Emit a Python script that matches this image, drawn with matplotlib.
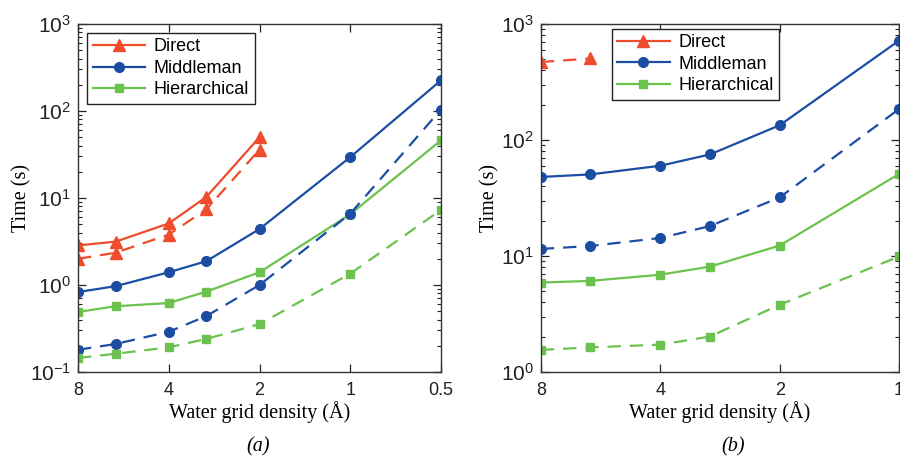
import matplotlib
matplotlib.use('Agg')
import matplotlib.pyplot as plt
from matplotlib.ticker import LogLocator, FixedLocator, NullLocator, NullFormatter

plt.rcParams['font.family'] = ['Liberation Sans', 'DejaVu Sans']
plt.rcParams['mathtext.fontset'] = 'custom'
plt.rcParams['mathtext.rm'] = 'Liberation Sans'
plt.rcParams['mathtext.it'] = 'Liberation Sans:italic'

# panel (a)
x_a = [8, 6, 4, 3, 2, 1, 0.5]
x_direct_a = [8, 6, 4, 3, 2]
direct_solid_a = [2.85, 3.15, 5.1, 10.3, 50]
direct_dash_a = [2.0, 2.35, 3.8, 7.4, 36]
middle_solid_a = [0.83, 0.97, 1.4, 1.88, 4.4, 29.5, 225]
middle_dash_a = [0.18, 0.21, 0.29, 0.44, 1.0, 6.6, 104]
hier_solid_a = [0.49, 0.57, 0.62, 0.84, 1.4, 6.5, 46]
hier_dash_a = [0.145, 0.162, 0.192, 0.24, 0.355, 1.35, 7.3]

# panel (b)
x_b = [8, 6, 4, 3, 2, 1]
x_direct_b = [8, 6]
direct_dash_b = [470, 505]
middle_solid_b = [48, 50.5, 60, 75, 134, 720]
middle_dash_b = [11.5, 12.2, 14.3, 18.1, 32, 185]
hier_solid_b = [5.9, 6.1, 6.9, 8.1, 12.3, 51]
hier_dash_b = [1.55, 1.63, 1.72, 2.02, 3.8, 9.9]

red = '#ee4c2c'
blue = '#1b4ea3'
green = '#6cc24e'
dash = (6, 4)
tick_labels = ['8', '4', '2', '1', '0.5']
tick_vals = [8, 4, 2, 1, 0.5]

fig = plt.figure(figsize=(9, 4.58), dpi=100)
ax1 = fig.add_axes([0.0867, 0.1878, 0.4033, 0.7598])
ax2 = fig.add_axes([0.601, 0.1878, 0.398, 0.7598])


def style_axes(ax, xlim, ylim, ylab_x):
    ax.set_xscale('log', base=2)
    ax.set_yscale('log')
    ax.set_xlim(*xlim)
    ax.set_ylim(*ylim)
    ax.xaxis.set_major_locator(FixedLocator(tick_vals))
    ax.set_xticklabels(tick_labels)
    ax.xaxis.set_minor_locator(NullLocator())
    ax.yaxis.set_major_locator(LogLocator(base=10, numticks=10))
    ax.yaxis.set_minor_locator(LogLocator(base=10, subs=range(2, 10), numticks=10))
    ax.yaxis.set_minor_formatter(NullFormatter())
    ax.tick_params(which='both', direction='in', top=True, right=True, colors='#222222')
    ax.tick_params(which='major', length=6, width=0.9)
    ax.tick_params(which='minor', length=3, width=0.8)
    ax.tick_params(axis='x', pad=7, labelsize=13)
    ax.tick_params(axis='y', pad=5, labelsize=15)
    for s in ax.spines.values():
        s.set_color('#333333')
        s.set_linewidth(1.0)
    ax.set_xlabel('Water grid density (Å)', family='Liberation Serif', fontsize=14.5, labelpad=2)
    ax.set_ylabel('Time (s)', family='Liberation Serif', fontsize=14.5)
    ax.yaxis.set_label_coords(ylab_x, 0.5)


kw = dict(lw=1.6)
# (a)
ax1.plot(x_direct_a, direct_solid_a, color=red, marker='^', ms=8, label='Direct', **kw)
ax1.plot(x_a, middle_solid_a, color=blue, marker='o', ms=7, label='Middleman', **kw)
ax1.plot(x_a, hier_solid_a, color=green, marker='s', ms=5.5, label='Hierarchical', **kw)
ax1.plot(x_direct_a, direct_dash_a, color=red, marker='^', ms=8, dashes=dash, **kw)
ax1.plot(x_a, middle_dash_a, color=blue, marker='o', ms=7, dashes=dash, **kw)
ax1.plot(x_a, hier_dash_a, color=green, marker='s', ms=5.5, dashes=dash, **kw)
style_axes(ax1, (8, 0.5), (0.1, 1000), -0.127)

# (b)
ax2.plot([], [], color=red, marker='^', ms=8, label='Direct', **kw)
ax2.plot(x_b, middle_solid_b, color=blue, marker='o', ms=7, label='Middleman', **kw)
ax2.plot(x_b, hier_solid_b, color=green, marker='s', ms=5.5, label='Hierarchical', **kw)
ax2.plot(x_direct_b, direct_dash_b, color=red, marker='^', ms=8, dashes=dash, **kw)
ax2.plot(x_b, middle_dash_b, color=blue, marker='o', ms=7, dashes=dash, **kw)
ax2.plot(x_b, hier_dash_b, color=green, marker='s', ms=5.5, dashes=dash, **kw)
style_axes(ax2, (8, 1), (1, 1000), -0.115)

for ax, anchor in [(ax1, (0.025, 0.974)), (ax2, (0.198, 0.986))]:
    leg = ax.legend(loc='upper left', bbox_to_anchor=anchor, borderaxespad=0,
                    fontsize=13, handlelength=2.9, fancybox=False, framealpha=1,
                    edgecolor='#222222', borderpad=0.3, labelspacing=0.25, handletextpad=0.5)
    leg.get_frame().set_linewidth(1.0)

fig.text(0.287, 0.024, '(a)', family='Liberation Serif', style='italic', fontsize=14.5, ha='center', va='center')
fig.text(0.815, 0.024, '(b)', family='Liberation Serif', style='italic', fontsize=14.5, ha='center', va='center')

fig.savefig('out.png', dpi=100)
